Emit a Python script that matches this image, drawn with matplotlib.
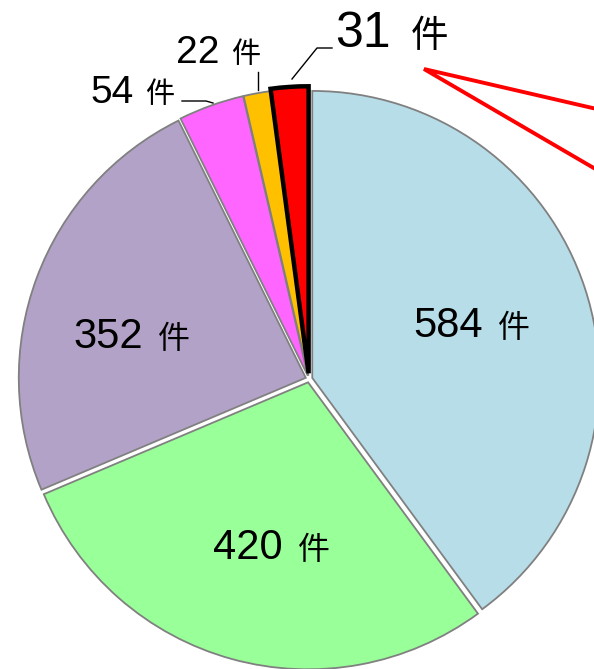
import matplotlib.pyplot as plt

# data (clockwise from 12 o'clock)
counts = [584, 420, 352, 54, 22, 31]
colors = ["#B7DDE8", "#99FF99", "#B3A2C7", "#FF66FF", "#FFC000", "#FF0000"]
unit = "件"

# pixel geometry of the reference
W, H = 594, 669
CX, CY, R = 309, 379, 287


def px(x, y):
    return (x - CX) / R, (CY - y) / R


def label(x, y, num, size, usize, gap=15):
    # number right-aligned at x, unit to the right of it
    ax.text(*px(x, y), str(num), ha="right", va="baseline",
            fontsize=size, family=["Liberation Sans", "DejaVu Sans"])
    ax.text(*px(x + gap, y), unit, ha="left", va="baseline",
            fontsize=usize, family=["Noto Sans CJK JP", "DejaVu Sans"])


fig = plt.figure(figsize=(W / 100, H / 100), dpi=100)
ax = fig.add_axes([0, 0, 1, 1])

wedges, _ = ax.pie(counts, colors=colors, startangle=90, counterclock=False,
                   radius=1, explode=[0.012, 0.012, 0.012, 0.012, 0.012, 0.02],
                   wedgeprops=dict(edgecolor="#808080", linewidth=1.3))
wedges[-1].set_edgecolor("black")
wedges[-1].set_linewidth(3.2)
wedges[-1].set_zorder(3)

# in-slice labels
label(483, 337, counts[0], 30, 23)
label(283, 559, counts[1], 30, 23)
label(143, 348, counts[2], 30, 23)

# outside labels with leader lines
label(134, 103, counts[3], 28, 21, gap=11)
ax.plot(*zip(px(182, 101), px(206, 101), px(213, 103)), color="black", lw=1)
label(220, 63, counts[4], 28, 21, gap=11)
ax.plot(*zip(px(258, 72), px(258, 90)), color="black", lw=1)
label(391, 47, counts[5], 36, 27, gap=20)
ax.plot(*zip(px(332, 48), px(317, 48), px(292, 79)), color="black", lw=1)

# red callout lines running off the right edge
ax.plot(*zip(px(640, 119), px(424, 69), px(640, 195)), color="red", lw=2.8,
        solid_joinstyle="miter")

ax.set_xlim(px(0, 0)[0], px(W, 0)[0])
ax.set_ylim(px(0, H)[1], px(0, 0)[1])
ax.set_aspect("equal")
ax.axis("off")

fig.savefig("out.png", dpi=100)
